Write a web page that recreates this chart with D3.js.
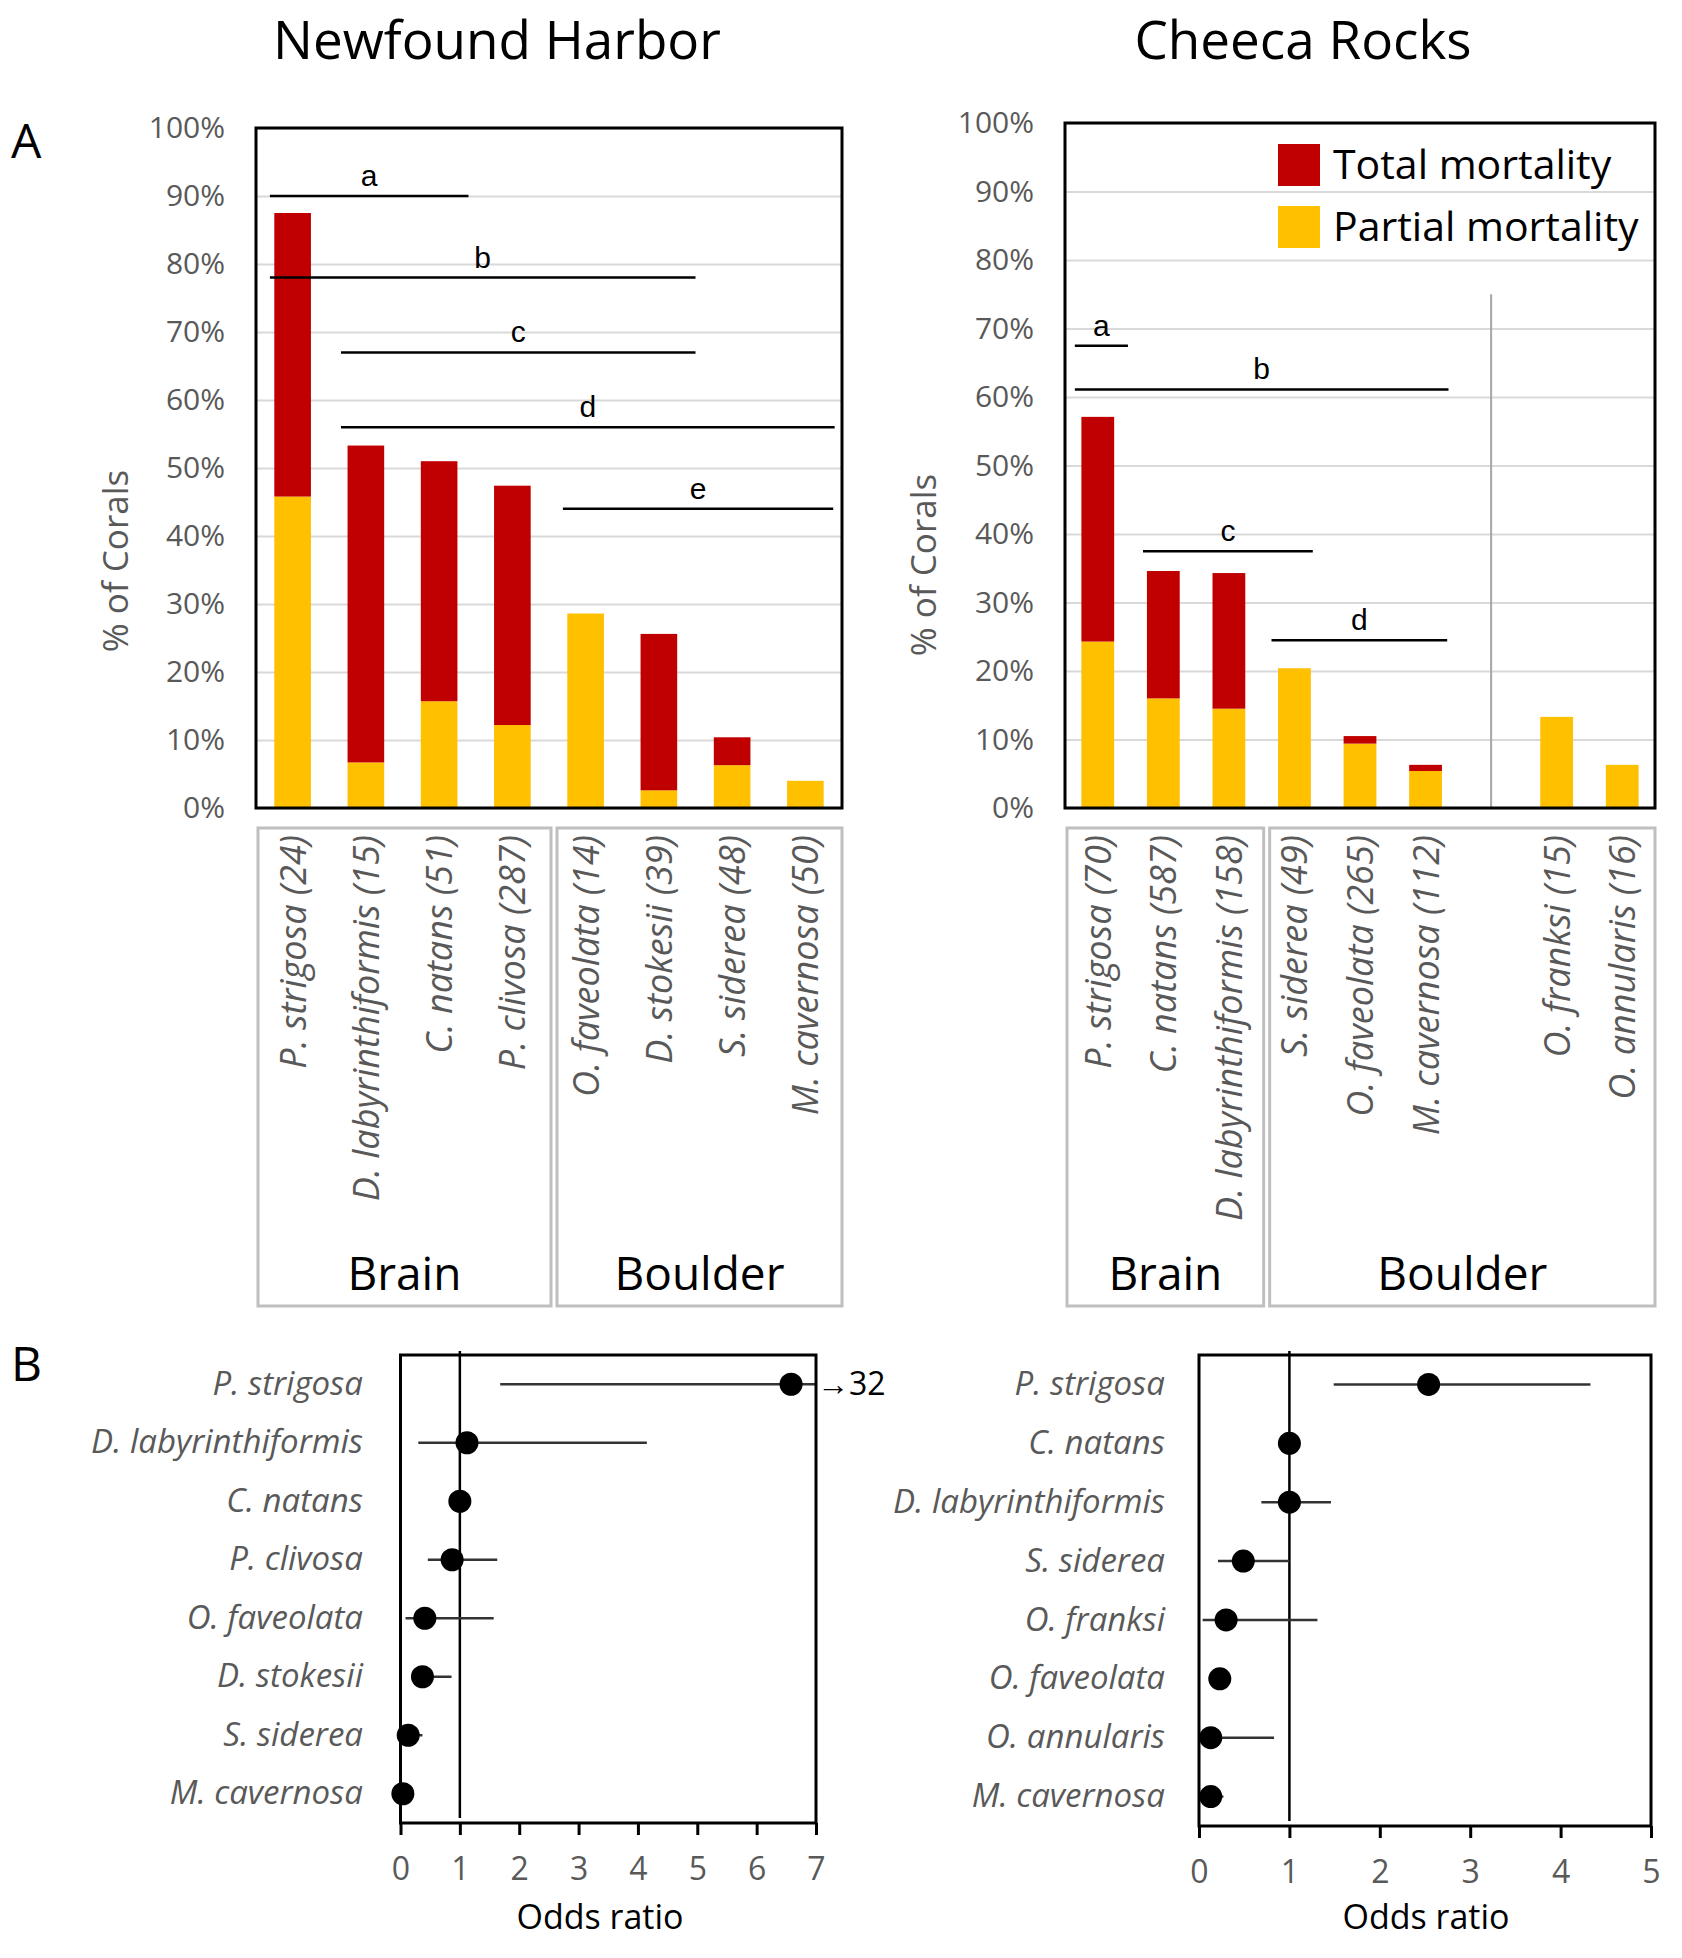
<!DOCTYPE html>
<html>
<head>
<meta charset="utf-8">
<script src="https://cdn.jsdelivr.net/npm/d3@7"></script>
<style>
  body { margin: 0; background: #fff; }
  text { font-family: "Open Sans", sans-serif; }
</style>
</head>
<body>
<div id="figure"></div>
<script>
// ---------- Panel A: % of corals with mortality ----------
var nhSpecies = ["P. strigosa", "D. labyrinthiformis", "C. natans", "P. clivosa",
                 "O. faveolata", "D. stokesii", "S. siderea", "M. cavernosa"];
var nhN = [24, 15, 51, 287, 14, 39, 48, 50];
var nhPartial = [45.8, 6.7, 15.7, 12.2, 28.6, 2.6, 6.3, 4.0];
var nhTotal = [41.7, 46.6, 35.3, 35.2, 0, 23.0, 4.1, 0];
var nhGroupNames = ["Brain", "Boulder"];
var nhGroupSizes = [4, 4];
// significance bars: letter, start/end in category slots, height in %
var nhSigLetters = ["a", "b", "c", "d", "e"];
var nhSigFrom = [0.19, 0.19, 1.16, 1.16, 4.19];
var nhSigTo = [2.9, 6.0, 6.0, 7.9, 7.88];
var nhSigY = [90, 78, 67, 56, 44];

// Cheeca Rocks has an empty slot between the two groups of boulder corals
var crSpecies = ["P. strigosa", "C. natans", "D. labyrinthiformis", "S. siderea",
                 "O. faveolata", "M. cavernosa", "", "O. franksi", "O. annularis"];
var crN = [70, 587, 158, 49, 265, 112, null, 15, 16];
var crPartial = [24.3, 16.0, 14.5, 20.4, 9.4, 5.4, null, 13.3, 6.3];
var crTotal = [32.8, 18.6, 19.8, 0, 1.1, 0.9, null, 0, 0];
var crGroupNames = ["Brain", "Boulder"];
var crGroupSizes = [3, 6];
var crSigLetters = ["a", "b", "c", "d"];
var crSigFrom = [0.15, 0.15, 1.19, 3.15];
var crSigTo = [0.96, 5.85, 3.78, 5.83];
var crSigY = [67.5, 61.1, 37.5, 24.5];
var crDividerSlot = 6.5;
var crDividerTop = 75;

var pctTicks = [0, 10, 20, 30, 40, 50, 60, 70, 80, 90, 100];
var legendLabels = ["Total mortality", "Partial mortality"];

// ---------- Panel B: odds ratios ----------
var nhOrSpecies = ["P. strigosa", "D. labyrinthiformis", "C. natans", "P. clivosa",
                   "O. faveolata", "D. stokesii", "S. siderea", "M. cavernosa"];
var nhOr = [6.58, 1.12, 1.0, 0.87, 0.41, 0.37, 0.13, 0.04];
var nhOrLo = [1.68, 0.30, null, 0.46, 0.085, 0.20, 0.0, null];
var nhOrHi = [32, 4.15, null, 1.63, 1.57, 0.86, 0.37, null];
var nhOrTicks = [0, 1, 2, 3, 4, 5, 6, 7];

var crOrSpecies = ["P. strigosa", "C. natans", "D. labyrinthiformis", "S. siderea",
                   "O. franksi", "O. faveolata", "O. annularis", "M. cavernosa"];
var crOr = [2.54, 1.0, 1.0, 0.49, 0.30, 0.23, 0.13, 0.13];
var crOrLo = [1.49, null, 0.69, 0.21, 0.04, null, 0.03, 0.06];
var crOrHi = [4.33, null, 1.46, 1.0, 1.31, null, 0.83, 0.27];
var crOrTicks = [0, 1, 2, 3, 4, 5];

var red = "#C00000";
var yellow = "#FFC000";
var grey = "#595959";

var svgWidth = 1682;
var svgHeight = 1958;

var svg = d3.select("#figure")
  .append("svg")
  .attr("width", svgWidth)
  .attr("height", svgHeight);

svg.append("rect").attr("width", svgWidth).attr("height", svgHeight).attr("fill", "#fff");

// stacked bar chart with group boxes under it
function drawBars(cfg) {
  var n = cfg.species.length;
  var g = svg.append("g");

  var x = d3.scaleBand().domain(d3.range(n))
    .range([cfg.left, cfg.right]).paddingInner(0.5).paddingOuter(0.25);
  var slot = d3.scaleLinear().domain([0, n]).range([cfg.left, cfg.right]);
  var y = d3.scaleLinear().domain([0, 100]).range([cfg.bottom, cfg.top]);

  // gridlines
  g.append("g")
    .attr("transform", `translate(${cfg.left},0)`)
    .call(d3.axisLeft(y).tickValues(pctTicks).tickSize(-(cfg.right - cfg.left)).tickFormat(""))
    .call(a => a.select(".domain").remove())
    .selectAll("line").attr("stroke", "#d9d9d9").attr("stroke-width", 2);

  // tick labels
  g.append("g")
    .attr("transform", `translate(${cfg.left},0)`)
    .call(d3.axisLeft(y).tickValues(pctTicks).tickSize(0).tickPadding(31).tickFormat(d => d + "%"))
    .call(a => a.select(".domain").remove())
    .attr("color", grey)
    .attr("font-family", "Open Sans, sans-serif")
    .attr("font-size", 30);

  if (cfg.divider != null) {
    g.append("line")
      .attr("x1", slot(cfg.divider)).attr("x2", slot(cfg.divider))
      .attr("y1", y(cfg.dividerTop)).attr("y2", y(0))
      .attr("stroke", "#a6a6a6").attr("stroke-width", 2);
  }

  var rows = cfg.species.map(function(s, i) {
    return { i: i, partial: cfg.partial[i], total: cfg.total[i] };
  }).filter(d => d.partial != null);

  g.selectAll(".partial").data(rows).enter()
    .append("rect")
    .attr("x", d => x(d.i))
    .attr("width", x.bandwidth())
    .attr("y", d => y(d.partial))
    .attr("height", d => y(0) - y(d.partial))
    .attr("fill", yellow);

  g.selectAll(".total").data(rows.filter(d => d.total > 0)).enter()
    .append("rect")
    .attr("x", d => x(d.i))
    .attr("width", x.bandwidth())
    .attr("y", d => y(d.partial + d.total))
    .attr("height", d => y(d.partial) - y(d.partial + d.total))
    .attr("fill", red);

  // frame
  g.append("rect")
    .attr("x", cfg.left).attr("y", cfg.top)
    .attr("width", cfg.right - cfg.left).attr("height", cfg.bottom - cfg.top)
    .attr("fill", "none").attr("stroke", "#000").attr("stroke-width", 3);

  // significance groupings
  cfg.sigLetters.forEach(function(letter, i) {
    var x0 = slot(cfg.sigFrom[i]), x1 = slot(cfg.sigTo[i]);
    g.append("line")
      .attr("x1", x0).attr("x2", x1)
      .attr("y1", y(cfg.sigY[i])).attr("y2", y(cfg.sigY[i]))
      .attr("stroke", "#000").attr("stroke-width", 2.5);
    g.append("text")
      .attr("x", (x0 + x1) / 2)
      .attr("y", y(cfg.sigY[i]) - 10)
      .attr("text-anchor", "middle")
      .style("font-family", "Liberation Sans, Arial, sans-serif")
      .attr("font-size", 30)
      .text(letter);
  });

  // rotated species labels
  rows.forEach(function(d) {
    var cx = x(d.i) + x.bandwidth() / 2;
    g.append("text")
      .attr("transform", `translate(${cx},${cfg.bottom + 27}) rotate(-90)`)
      .attr("dy", "0.36em")
      .attr("text-anchor", "end")
      .attr("font-size", 36)
      .attr("font-style", "italic")
      .attr("fill", grey)
      .text(cfg.species[d.i] + " (" + cfg.n[d.i] + ")");
  });

  // group boxes
  var start = 0;
  cfg.groupNames.forEach(function(name, i) {
    var end = start + cfg.groupSizes[i];
    var x0 = slot(start) + (i ? 8 : 2);
    var x1 = slot(end) + (i < cfg.groupNames.length - 1 ? 2 : 0);
    g.append("rect")
      .attr("x", x0).attr("y", cfg.bottom + 20)
      .attr("width", x1 - x0).attr("height", 1306 - cfg.bottom - 20)
      .attr("fill", "none").attr("stroke", "#bfbfbf").attr("stroke-width", 3);
    g.append("text")
      .attr("x", (x0 + x1) / 2).attr("y", 1290)
      .attr("text-anchor", "middle")
      .attr("font-size", 46)
      .text(name);
    start = end;
  });

  // y title
  g.append("text")
    .attr("transform", `translate(${cfg.yTitleX},${cfg.yTitleY}) rotate(-90)`)
    .attr("text-anchor", "middle")
    .attr("dy", "0.35em")
    .attr("font-size", 35)
    .attr("fill", grey)
    .text("% of Corals");

  // site title
  g.append("text")
    .attr("x", cfg.titleX).attr("y", 59)
    .attr("text-anchor", "middle")
    .attr("font-size", 53)
    .text(cfg.title);

  return g;
}

// odds ratio plot
function drawForest(cfg) {
  var g = svg.append("g");
  var x = d3.scaleLinear().domain([0, d3.max(cfg.ticks)]).range([cfg.left, cfg.right]);
  var y = d3.scaleBand().domain(cfg.species).range([cfg.top, cfg.bottom]);

  // x axis
  g.append("g")
    .attr("transform", `translate(0,${cfg.bottom})`)
    .call(d3.axisBottom(x).tickValues(cfg.ticks).tickSize(12).tickPadding(22).tickFormat(d3.format("d")))
    .call(a => a.select(".domain").remove())
    .call(a => a.selectAll("line").attr("stroke", "#000").attr("stroke-width", 3))
    .call(a => a.selectAll("text").attr("fill", grey))
    .attr("font-family", "Open Sans, sans-serif")
    .attr("font-size", 32);

  // species labels
  g.append("g")
    .attr("transform", `translate(${cfg.left},0)`)
    .call(d3.axisLeft(y).tickSize(0).tickPadding(cfg.left - cfg.labelX))
    .call(a => a.select(".domain").remove())
    .attr("color", grey)
    .attr("font-family", "Open Sans, sans-serif")
    .attr("font-style", "italic")
    .attr("font-size", 33);

  // reference line at odds ratio = 1
  g.append("line")
    .attr("x1", x(1)).attr("x2", x(1))
    .attr("y1", cfg.top - 4).attr("y2", cfg.bottom - 5)
    .attr("stroke", "#000").attr("stroke-width", 2.5);

  var rows = cfg.species.map(function(s, i) {
    return { s: s, or: cfg.or[i], lo: cfg.lo[i], hi: cfg.hi[i] };
  });
  var xMax = d3.max(cfg.ticks);

  g.selectAll(".ci").data(rows.filter(d => d.lo != null)).enter()
    .append("line")
    .attr("x1", d => x(d.lo))
    .attr("x2", d => x(Math.min(d.hi, xMax)))
    .attr("y1", d => y(d.s) + y.bandwidth() / 2)
    .attr("y2", d => y(d.s) + y.bandwidth() / 2)
    .attr("stroke", "#333").attr("stroke-width", 2.5);

  // upper limit off the scale
  rows.filter(d => d.hi != null && d.hi > xMax).forEach(function(d) {
    g.append("text")
      .attr("x", cfg.right + 1)
      .attr("y", y(d.s) + y.bandwidth() / 2)
      .attr("dy", "0.35em")
      .attr("font-size", 32)
      .text("\u2192" + d.hi);
  });

  g.selectAll(".dot").data(rows).enter()
    .append("circle")
    .attr("cx", d => x(d.or))
    .attr("cy", d => y(d.s) + y.bandwidth() / 2)
    .attr("r", 11.5)
    .attr("fill", "#000");

  // frame
  g.append("rect")
    .attr("x", cfg.left).attr("y", cfg.top)
    .attr("width", cfg.right - cfg.left).attr("height", cfg.bottom - cfg.top)
    .attr("fill", "none").attr("stroke", "#000").attr("stroke-width", 3);

  g.append("text")
    .attr("x", cfg.titleX).attr("y", 1929)
    .attr("text-anchor", "middle")
    .attr("font-size", 34)
    .text("Odds ratio");
}

drawBars({
  species: nhSpecies, n: nhN, partial: nhPartial, total: nhTotal,
  groupNames: nhGroupNames, groupSizes: nhGroupSizes,
  sigLetters: nhSigLetters, sigFrom: nhSigFrom, sigTo: nhSigTo, sigY: nhSigY,
  left: 256, right: 842, top: 128, bottom: 808,
  yTitleX: 116, yTitleY: 561, titleX: 497, title: "Newfound Harbor"
});

var cr = drawBars({
  species: crSpecies, n: crN, partial: crPartial, total: crTotal,
  groupNames: crGroupNames, groupSizes: crGroupSizes,
  sigLetters: crSigLetters, sigFrom: crSigFrom, sigTo: crSigTo, sigY: crSigY,
  divider: crDividerSlot, dividerTop: crDividerTop,
  left: 1065, right: 1655, top: 123, bottom: 808,
  yTitleX: 924, yTitleY: 565, titleX: 1303, title: "Cheeca Rocks"
});

// legend inside the Cheeca Rocks plot
var legend = cr.append("g").attr("transform", "translate(1278,144)");
legend.selectAll("rect").data(legendLabels).enter()
  .append("rect")
  .attr("x", 0).attr("y", (d, i) => i * 62)
  .attr("width", 42).attr("height", 42)
  .attr("fill", (d, i) => i ? yellow : red);
legend.selectAll("text").data(legendLabels).enter()
  .append("text")
  .attr("x", 55).attr("y", (d, i) => i * 62 + 21)
  .attr("dy", "0.35em")
  .attr("font-size", 41)
  .text(d => d);

drawForest({
  species: nhOrSpecies, or: nhOr, lo: nhOrLo, hi: nhOrHi, ticks: nhOrTicks,
  left: 400.5, right: 816, top: 1355, bottom: 1823, labelX: 363, titleX: 600
});

drawForest({
  species: crOrSpecies, or: crOr, lo: crOrLo, hi: crOrHi, ticks: crOrTicks,
  left: 1199, right: 1651, top: 1355, bottom: 1826, labelX: 1165, titleX: 1426
});

// panel letters
svg.append("text").attr("x", 11).attr("y", 158).attr("font-size", 48).text("A");
svg.append("text").attr("x", 11).attr("y", 1381).attr("font-size", 48).text("B");
</script>
</body>
</html>
